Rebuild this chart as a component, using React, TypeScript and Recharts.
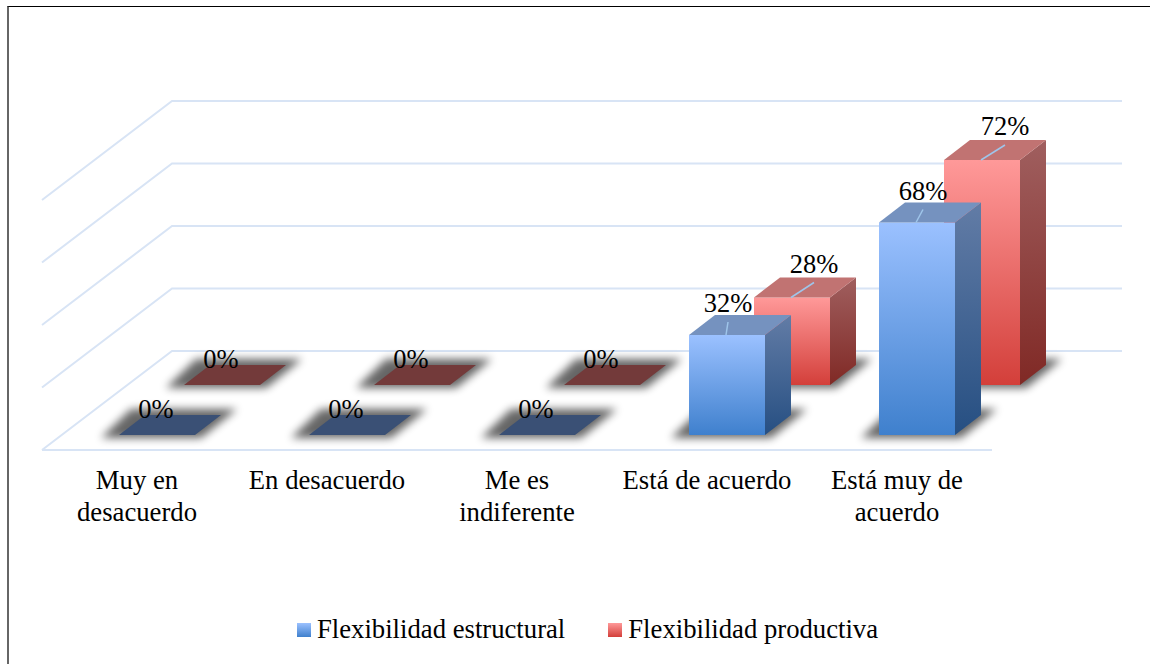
import React from 'react';
import { BarChart, Bar, XAxis, YAxis, CartesianGrid, Legend, LabelList } from 'recharts';

const categories = ['Muy en desacuerdo', 'En desacuerdo', 'Me es indiferente', 'Está de acuerdo', 'Está muy de acuerdo'];
const categoryLines = [['Muy en', 'desacuerdo'], ['En desacuerdo'], ['Me es', 'indiferente'], ['Está de acuerdo'], ['Está muy de', 'acuerdo']];
const estructural = [0, 0, 0, 32, 68];
const productiva = [0, 0, 0, 28, 72];
const yTicks = [0, 20, 40, 60, 80];

const data = categories.map((name, i) => ({ name, estructural: estructural[i], productiva: productiva[i] }));

const FONT = '"Liberation Serif", serif';
const GRID = '#d8e4f5';
const BAR_WIDTH = 76;

// fake 3D: the floor recedes 130px right and 99px up, each bar is 26/20 deep
const FLOOR_DX = 130;
const FLOOR_DY = 99;
const BAR_DX = 26;
const BAR_DY = 20;

interface Look {
  id: string;
  name: string;
  rowDx: number;
  rowDy: number;
  top: string;
  flat: string;
  labelNudge: number[];
  labelRise: number;
}

const structuralLook: Look = {
  id: 'blue',
  name: 'Flexibilidad estructural',
  rowDx: 20,
  rowDy: 15,
  top: '#7592bf',
  flat: '#3a5075',
  labelNudge: [-1, -1, -1, 1, 6],
  labelRise: 23,
};

const productiveLook: Look = {
  id: 'red',
  name: 'Flexibilidad productiva',
  rowDx: 85,
  rowDy: 65,
  top: '#c17372',
  flat: '#733a3a',
  labelNudge: [-1, -1, -1, 22, 23],
  labelRise: 25,
};

const makeBar = (look: Look) => (props: any) => {
  const x0 = props.x + look.rowDx;
  const x1 = x0 + props.width;
  const top = props.y - look.rowDy;
  const base = top + props.height;
  const shadow = `${x0 - 18},${base + 3} ${x1 + 6},${base + 3} ${x1 + 42},${base - 26} ${x0 + 12},${base - 26}`;
  const topFace = `${x0},${top} ${x1},${top} ${x1 + BAR_DX},${top - BAR_DY} ${x0 + BAR_DX},${top - BAR_DY}`;
  const side = `${x1},${top} ${x1 + BAR_DX},${top - BAR_DY} ${x1 + BAR_DX},${base - BAR_DY} ${x1},${base}`;
  if (props.height < 1) {
    return (
      <g>
        <polygon points={shadow} fill="#000" opacity={0.6} filter="url(#soft)" />
        <polygon points={topFace} fill={look.flat} />
      </g>
    );
  }
  return (
    <g>
      <polygon points={shadow} fill="#000" opacity={0.6} filter="url(#soft)" />
      <rect x={x0} y={top} width={props.width} height={props.height} fill={`url(#${look.id}Front)`} />
      <polygon points={side} fill={`url(#${look.id}Side)`} />
      <polygon points={topFace} fill={look.top} />
    </g>
  );
};

const makeLabel = (look: Look) => (props: any) => {
  const cx = props.x + props.width / 2 + look.rowDx;
  const top = props.y - look.rowDy;
  const isZero = props.value === 0;
  const lx = cx + look.labelNudge[props.index];
  const baseline = top - (isZero ? 17 : look.labelRise);
  return (
    <g>
      {!isZero && <line x1={cx - 1} y1={top} x2={lx} y2={baseline + 10} stroke="#9fc5ea" strokeWidth={1.5} />}
      <text x={lx} y={baseline} textAnchor="middle" fontFamily={FONT} fontSize={26.5} fill="#000">
        {props.value}%
      </text>
    </g>
  );
};

// grid line on the back wall, joined to the left wall; the 0 line also gets the floor front edge
const gridLine = (props: any) => {
  const { x1, x2, y1 } = props;
  const y = y1;
  const isFloor = Math.abs(y - 450) < 1;
  return (
    <g key={props.key ?? y}>
      <polyline
        points={`${x1},${y} ${x1 + FLOOR_DX},${y - FLOOR_DY} ${x2 + FLOOR_DX},${y - FLOOR_DY}`}
        fill="none"
        stroke={GRID}
        strokeWidth={2}
      />
      {isFloor && <line x1={x1} y1={y} x2={x2} y2={y} stroke={GRID} strokeWidth={2} />}
    </g>
  );
};

const CategoryTick = (props: any) => (
  <text textAnchor="middle" fontFamily={FONT} fontSize={26.7} fill="#000">
    {categoryLines[props.index].map((line, i) => (
      <tspan key={line} x={props.x} y={props.y + 31 + i * 32}>
        {line}
      </tspan>
    ))}
  </text>
);

const LegendRow = () => (
  <div
    style={{
      display: 'flex',
      alignItems: 'center',
      paddingLeft: 255,
      paddingTop: 4,
      fontFamily: FONT,
      fontSize: 26.7,
      color: '#000',
    }}
  >
    {[structuralLook, productiveLook].map((look, i) => (
      <span key={look.id} style={{ display: 'flex', alignItems: 'center', marginLeft: i ? 43 : 0 }}>
        <span
          style={{
            display: 'inline-block',
            width: 14,
            height: 14,
            marginRight: 6,
            background: look.id === 'blue' ? 'linear-gradient(#9bc1ff, #3f80cd)' : 'linear-gradient(#ff9999, #d33f3a)',
          }}
        />
        {look.name}
      </span>
    ))}
  </div>
);

export default function App() {
  return (
    <div style={{ position: 'absolute', left: 0, top: 0, width: 1150, height: 664, background: '#fff' }}>
      <div style={{ position: 'absolute', left: 7, top: 6, right: 0, bottom: 0, borderLeft: '2px solid #666', borderTop: '1.5px solid #000' }} />
      <div style={{ position: 'absolute', left: 0, top: 0 }}>
        <BarChart
          width={1150}
          height={664}
          data={data}
          barSize={BAR_WIDTH}
          barGap={-BAR_WIDTH}
          margin={{ top: 200, right: 158, bottom: 14, left: 42 }}
        >
          <defs>
            <linearGradient id="blueFront" x1="0" y1="0" x2="0" y2="1">
              <stop offset="0%" stopColor="#9bc1ff" />
              <stop offset="100%" stopColor="#3f80cd" />
            </linearGradient>
            <linearGradient id="blueSide" x1="0" y1="0" x2="0" y2="1">
              <stop offset="0%" stopColor="#627ca6" />
              <stop offset="100%" stopColor="#264f82" />
            </linearGradient>
            <linearGradient id="redFront" x1="0" y1="0" x2="0" y2="1">
              <stop offset="0%" stopColor="#ff9999" />
              <stop offset="100%" stopColor="#d33f3a" />
            </linearGradient>
            <linearGradient id="redSide" x1="0" y1="0" x2="0" y2="1">
              <stop offset="0%" stopColor="#a05f5f" />
              <stop offset="100%" stopColor="#802925" />
            </linearGradient>
            <filter id="soft" x="-30%" y="-80%" width="160%" height="260%">
              <feGaussianBlur stdDeviation="4" />
            </filter>
          </defs>
          <CartesianGrid vertical={false} horizontal={gridLine} />
          <XAxis dataKey="name" axisLine={false} tickLine={false} height={160} interval={0} tick={CategoryTick} />
          <YAxis hide domain={[0, 80]} ticks={yTicks} />
          <Legend height={40} content={LegendRow} />
          <Bar dataKey="productiva" name={productiveLook.name} shape={makeBar(productiveLook)} isAnimationActive={false}>
            <LabelList dataKey="productiva" content={makeLabel(productiveLook)} />
          </Bar>
          <Bar dataKey="estructural" name={structuralLook.name} shape={makeBar(structuralLook)} isAnimationActive={false}>
            <LabelList dataKey="estructural" content={makeLabel(structuralLook)} />
          </Bar>
        </BarChart>
      </div>
    </div>
  );
}
